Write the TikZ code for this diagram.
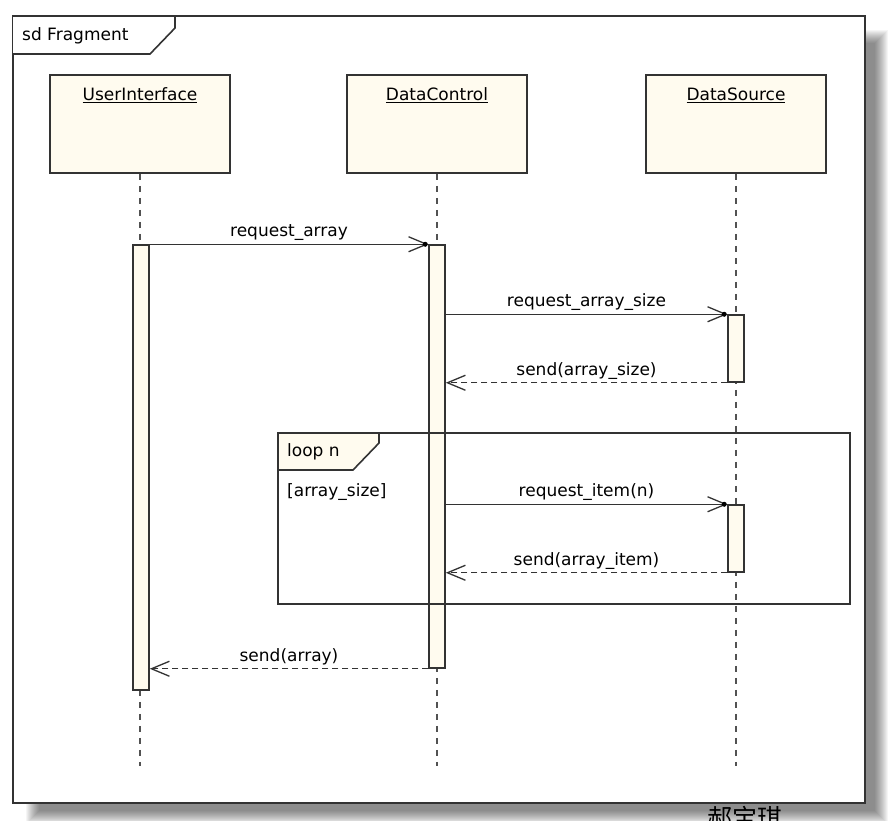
\documentclass[tikz,border=0pt]{standalone}
\usepackage{fontspec}
\setmainfont{DejaVu Sans}
\newfontfamily\cjkfont{Noto Sans CJK SC}
\usetikzlibrary{arrows.meta,calc}
\definecolor{cream}{HTML}{FFFBEF}
\definecolor{ink}{HTML}{333333}
\begin{document}
\begin{tikzpicture}[x=1pt,y=-1pt,
  every node/.style={font=\fontsize{17}{20}\selectfont, text=black},
  frameline/.style={draw=ink,line width=1.6pt},
  head/.style={draw=ink,line width=1.6pt,fill=cream,minimum width=180pt,minimum height=98pt,inner sep=0pt},
  act/.style={draw=ink,line width=1.5pt,fill=cream,minimum width=16pt,inner sep=0pt},
  lifeline/.style={draw=ink!85,line width=1.5pt,dash pattern=on 6pt off 6pt},
  call/.style={draw=ink,line width=1.3pt,-{Straight Barb[length=18pt,width=15pt,line width=1.3pt]}},
  ret/.style={call,dash pattern=on 6pt off 4pt},
  msglabel/.style={midway,above=3pt,inner sep=0pt},
  tipdot/.style={circle,fill=black,inner sep=0pt,minimum size=5pt},
  headtext/.style={inner sep=0pt}
]
% canvas
\fill[white] (0,0) rectangle (894,820);
\useasboundingbox (0,0) rectangle (894,820);
\begin{scope}
\clip (0,0) rectangle (894,820);
% shadow
\foreach \r in {0,1,...,13}{
  \fill[black,opacity=0.04] (26+\r,30+\r) rectangle (888-\r,824-\r);
}
% main frame
\fill[white] (13,16) rectangle (865,803);
\draw[frameline] (13,16) rectangle (865,803);
\node[anchor=base,inner sep=0pt,font=\cjkfont\fontsize{25}{28}\selectfont] (mark) at (745,827) {郝宝琪};
\end{scope}
\draw[frameline,fill=white] (13,16) -- (175,16) -- (175,28) -- (150,54) -- (13,54);
\node[anchor=west,inner sep=0pt] (sdlabel) at (22,36) {sd Fragment};

% lifeline heads
\node[head] (ui) at (140,124) {};
\node[head] (dc) at (437,124) {};
\node[head] (ds) at (736,124) {};
\node[headtext] (uit) at (140,95) {\underline{UserInterface}};
\node[headtext] (dct) at (437,95) {\underline{DataControl}};
\node[headtext] (dst) at (736,95) {\underline{DataSource}};

% lifelines
\coordinate (uiend) at (140,766);
\coordinate (dcend) at (437,766);
\coordinate (dsend) at (736,766);
\draw[lifeline] (ui.south) -- (uiend);
\draw[lifeline] (dc.south) -- (dcend);
\draw[lifeline] (ds.south) -- (dsend);

% activations
\node[act,minimum height=445pt] (uiact) at (141,467.5) {};
\node[act,minimum height=423pt] (dcact) at (437,456.5) {};
\node[act,minimum height=67pt] (ds1) at (736,348.5) {};
\node[act,minimum height=67pt] (ds2) at (736,538.5) {};

% loop fragment
\draw[frameline] (278,433) rectangle (850,604);
\draw[frameline,fill=cream] (278,433) -- (379,433) -- (379,443) -- (353,470) -- (278,470) -- cycle;
\node[anchor=west,inner sep=0pt] (looplabel) at (287,452) {loop n};
\node[anchor=west,inner sep=0pt] (guard) at (287,492) {[array\_size]};

% messages
\draw[call] (uiact.north east) -- (dcact.north west) node[msglabel] (l1) {request\_array};
\node[tipdot] (t1) at ($(dcact.north west)+(-3,0)$) {};

\draw[call] (dcact.east |- ds1.north west) -- (ds1.north west) node[msglabel] (l2) {request\_array\_size};
\node[tipdot] (t2) at ($(ds1.north west)+(-3,0)$) {};

\draw[ret] (ds1.south west) -- (dcact.east |- ds1.south west) node[msglabel] (l3) {send(array\_size)};

\draw[call] (dcact.east |- ds2.north west) -- (ds2.north west) node[msglabel] (l4) {request\_item(n)};
\node[tipdot] (t4) at ($(ds2.north west)+(-3,0)$) {};

\draw[ret] (ds2.south west) -- (dcact.east |- ds2.south west) node[msglabel] (l5) {send(array\_item)};

\draw[ret] (dcact.south west) -- (uiact.east |- dcact.south west) node[msglabel] (l6) {send(array)};
\end{tikzpicture}
\end{document}
